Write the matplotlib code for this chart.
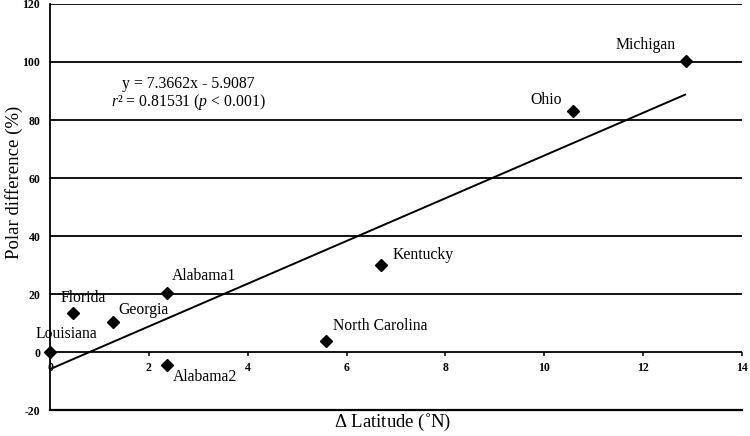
import matplotlib
matplotlib.use("Agg")
import matplotlib.pyplot as plt
import numpy as np

sites = ["Louisiana", "Florida", "Georgia", "Alabama1", "Alabama2",
         "North Carolina", "Kentucky", "Ohio", "Michigan"]
dlat = [0.0, 0.47, 1.28, 2.37, 2.37, 5.59, 6.70, 10.59, 12.87]
polar = [0.0, 13.4, 10.3, 20.3, -4.5, 3.8, 30.0, 83.1, 100.3]
slope, intercept = 7.3662, -5.9087
xticks = [0, 2, 4, 6, 8, 10, 12, 14]
yticks = [-20, 0, 20, 40, 60, 80, 100, 120]

plt.rcParams['font.family'] = ['Liberation Serif', 'DejaVu Serif']
plt.rcParams['mathtext.fontset'] = 'custom'
plt.rcParams['mathtext.rm'] = 'Liberation Serif'
plt.rcParams['mathtext.it'] = 'Liberation Serif:italic'

fig = plt.figure(figsize=(7.5, 4.36), dpi=100)
ax = fig.add_axes([50/750, 1-410/436, 692/750, 406/436])
ax.set_xlim(0, 14)
ax.set_ylim(-20, 120)

for yv in yticks:
    ax.axhline(yv, color='black', lw=1.3, zorder=1)

for s in ['top', 'right']:
    ax.spines[s].set_visible(False)
ax.spines['left'].set_linewidth(1.3)
ax.spines['bottom'].set_linewidth(1.6)

# small tick marks on the zero line
ax.plot(xticks, [0] * len(xticks), linestyle='none', marker=3, ms=3,
        mew=1.1, color='black', zorder=2, clip_on=False)

xs = np.array([0, max(dlat) - 0.02])
ax.plot(xs, slope * xs + intercept, color='black', lw=1.4, zorder=2)
ax.plot(dlat, polar, linestyle='none', marker='D', color='black', ms=6.5, zorder=3, clip_on=False)

offsets = {
    "Louisiana": (-14, 18, 'left'),
    "Florida": (-13, 15, 'left'),
    "Georgia": (5, 12, 'left'),
    "Alabama1": (5, 17, 'left'),
    "Alabama2": (6, -12, 'left'),
    "North Carolina": (7, 15, 'left'),
    "Kentucky": (11, 10, 'left'),
    "Ohio": (-12, 11, 'right'),
    "Michigan": (-10, 16, 'right'),
}
for name, x, y in zip(sites, dlat, polar):
    dx, dy, ha = offsets[name]
    ax.annotate(name, (x, y), xytext=(dx, dy), textcoords='offset pixels',
                ha=ha, va='center', fontsize=11.3)

ax.set_yticks(yticks)
ax.set_yticklabels([str(v) for v in yticks], fontsize=8.5, fontweight='bold')
ax.tick_params(axis='y', length=0, pad=7)
ax.set_xticks(xticks)
ax.set_xticklabels([])
ax.tick_params(axis='x', length=0)
for xv in xticks:
    ax.annotate(str(xv), (xv, 0), xytext=(0, -16), textcoords='offset pixels',
                ha='center', va='center', fontsize=8.5, fontweight='bold')

fig.text(188/750, 1-84/436, "y = 7.3662x - 5.9087", ha='center', va='center', fontsize=11.3)
fig.text(188/750, 1-102/436, r"$r$² = 0.81531 ($p$ < 0.001)", ha='center', va='center', fontsize=11.3)

fig.text(14/750, 1-182/436, "Polar difference (%)", rotation=90, ha='center', va='center', fontsize=13.5)
fig.text(393/750, 1-422/436, r"$\it{\Delta}$ Latitude (˚N)", ha='center', va='center', fontsize=13.5)

fig.savefig("out.png", dpi=100)
